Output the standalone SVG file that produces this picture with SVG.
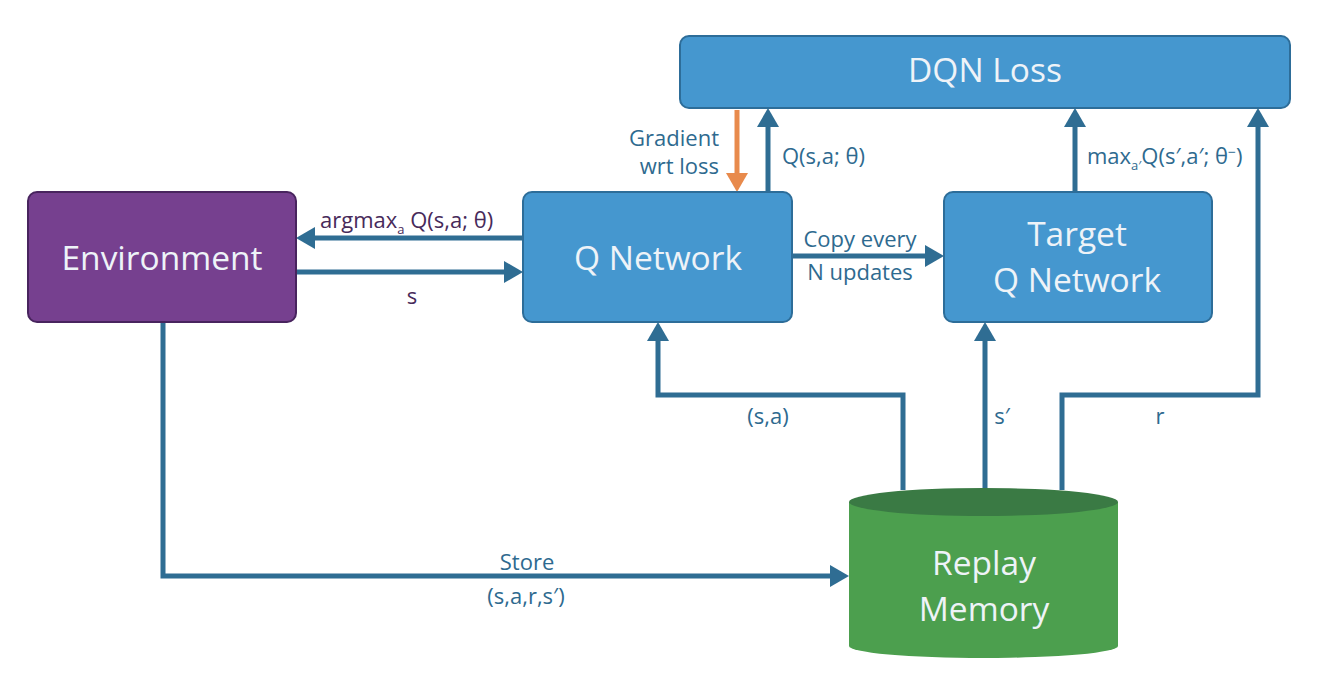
<svg xmlns="http://www.w3.org/2000/svg" width="1320" height="692" viewBox="0 0 1320 692">
<defs>
<style>
.node{fill:#4597cf;stroke:#2d6d99;stroke-width:2}
.env{fill:#76408f;stroke:#48245e;stroke-width:2}
.nt{font-family:"Open Sans","DejaVu Sans",sans-serif;font-size:33.5px;fill:#eef3f8;text-anchor:middle}
.lt{font-family:"Open Sans","DejaVu Sans",sans-serif;font-size:22px;fill:#2e6a8f}
.pt{font-family:"Open Sans","DejaVu Sans",sans-serif;font-size:22px;fill:#472a5a}
.ln{fill:none;stroke:#2f6d93;stroke-width:5}
.or{fill:none;stroke:#e88a4c;stroke-width:5}
</style>
<marker id="ah" markerUnits="userSpaceOnUse" markerWidth="20" markerHeight="22" refX="8" refY="11" orient="auto">
<path d="M0,0 L19,11 L0,22 z" fill="#2f6d93"/>
</marker>
<marker id="aho" markerUnits="userSpaceOnUse" markerWidth="20" markerHeight="22" refX="8" refY="11" orient="auto">
<path d="M0,0 L19,11 L0,22 z" fill="#e88a4c"/>
</marker>
</defs>
<rect width="1320" height="692" fill="#ffffff"/>
<g id="connectors">
<path class="ln" d="M523,238 H307" marker-end="url(#ah)"/>
<path class="ln" d="M296,272 H512" marker-end="url(#ah)"/>
<path class="ln" d="M768,192 V119" marker-end="url(#ah)"/>
<path class="or" d="M737,110 V181" marker-end="url(#aho)"/>
<path class="ln" d="M792,256 H933" marker-end="url(#ah)"/>
<path class="ln" d="M1075,192 V119" marker-end="url(#ah)"/>
<path class="ln" d="M1062,490 V395 H1258 V119" marker-end="url(#ah)"/>
<path class="ln" d="M985,490 V333" marker-end="url(#ah)"/>
<path class="ln" d="M903,490 V395 H658 V333" marker-end="url(#ah)"/>
<path class="ln" d="M163,322 V576 H838" marker-end="url(#ah)"/>
<text class="pt" x="320" y="228" font-size="23">argmax<tspan font-size="13" dy="6">a</tspan><tspan dy="-6"> Q(s,a; θ)</tspan></text>
<text class="pt" x="412" y="304" text-anchor="middle">s</text>
<text class="lt" x="719" y="146" text-anchor="end" font-size="20.5">Gradient</text>
<text class="lt" x="719" y="174" text-anchor="end" font-size="20.5">wrt loss</text>
<text class="lt" x="782" y="164" font-size="23">Q(s,a; θ)</text>
<text class="lt" x="860" y="247" text-anchor="middle" font-size="24">Copy every</text>
<text class="lt" x="860" y="280" text-anchor="middle" font-size="24">N updates</text>
<text class="lt" x="1087" y="164" font-size="23">max<tspan font-size="13" dy="6">a′</tspan><tspan dy="-6">Q(s′,a′; θ</tspan><tspan font-size="14" dy="-7">−</tspan><tspan dy="7">)</tspan></text>
<text class="lt" x="768" y="424" text-anchor="middle">(s,a)</text>
<text class="lt" x="1002" y="424" text-anchor="middle">s′</text>
<text class="lt" x="1160" y="424" text-anchor="middle">r</text>
<text class="lt" x="527" y="570" text-anchor="middle" font-size="23">Store</text>
<text class="lt" x="526" y="604" text-anchor="middle" font-size="22">(s,a,r,s′)</text>
</g>
<g id="environment">
<rect class="env" x="28" y="192" width="268" height="130" rx="9"/>
<text class="nt" x="162" y="270" font-size="35">Environment</text>
</g>
<g id="q-network">
<rect class="node" x="523" y="192" width="269" height="130" rx="9"/>
<text class="nt" x="658" y="270" font-size="35">Q Network</text>
</g>
<g id="target-q-network">
<rect class="node" x="944" y="192" width="268" height="130" rx="9"/>
<text class="nt" x="1077" y="246">Target</text>
<text class="nt" x="1077" y="292">Q Network</text>
</g>
<g id="dqn-loss">
<rect class="node" x="680" y="36" width="610" height="72" rx="9"/>
<text class="nt" x="985" y="82" font-size="29">DQN Loss</text>
</g>
<g id="replay-memory">
<path d="M849,502 V646 A134.5,12 0 0 0 1118,646 V502 Z" fill="#4c9f4e"/>
<ellipse cx="983.5" cy="502" rx="134.5" ry="14" fill="#3a7a44"/>
<text class="nt" x="984" y="575">Replay</text>
<text class="nt" x="984" y="621">Memory</text>
</g>
</svg>
